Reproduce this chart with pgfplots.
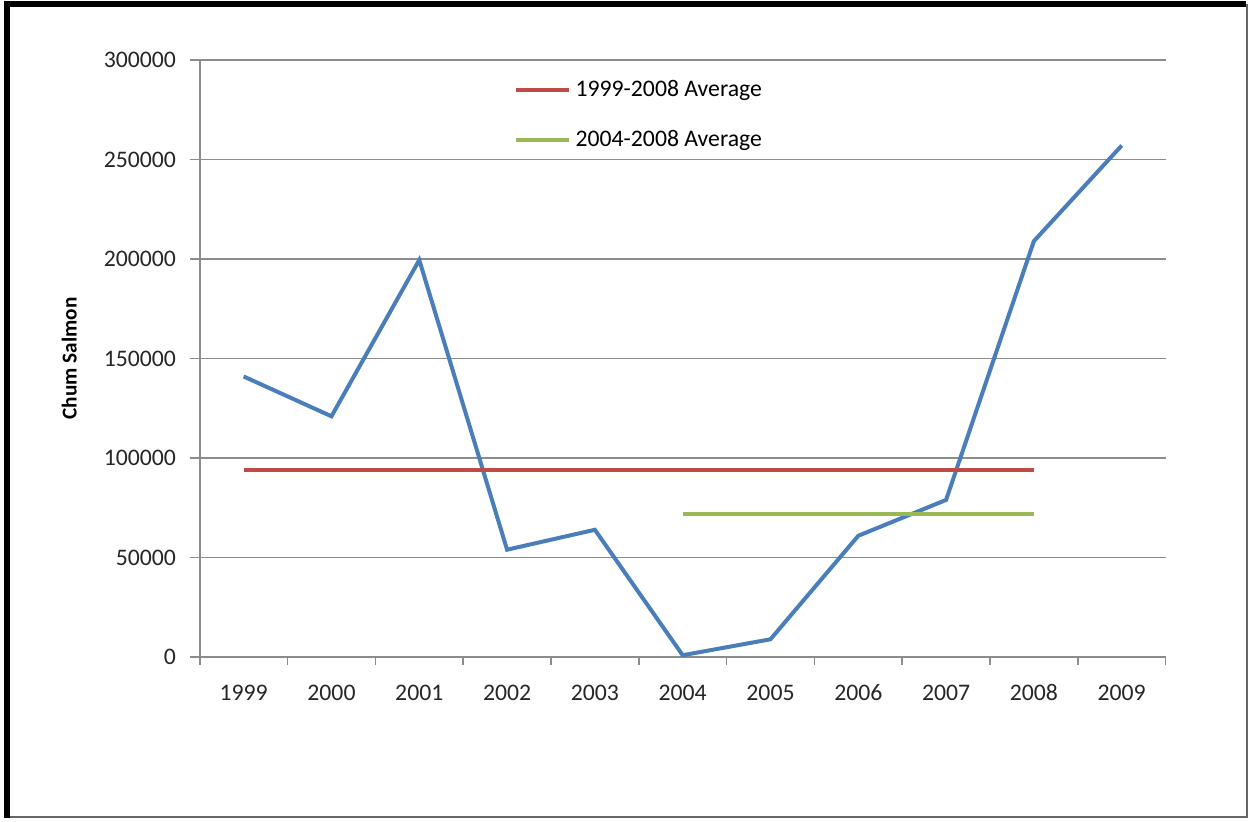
\documentclass[border=0pt]{standalone}
\usepackage{pgfplots}
\pgfplotsset{compat=1.18}
\usepackage{fontspec}
\setmainfont{Carlito}
\setsansfont{Carlito}

\definecolor{xlblue}{HTML}{4A7EBB}
\definecolor{xlred}{HTML}{BE4B48}
\definecolor{xlgreen}{HTML}{98B954}
\definecolor{gridgray}{HTML}{8C8C8C}

\begin{document}
\begin{tikzpicture}
% page frame, 1249 x 819 px at 0.4pt per px
\path (0pt,0pt) rectangle (499.6pt,327.6pt);
\draw[line width=0.8pt,black!60] (2pt,0.4pt) -- (499.2pt,0.4pt) -- (499.2pt,326pt);
\draw[line width=2.4pt,black] (2.8pt,0pt) -- (2.8pt,325.8pt) -- (499pt,325.8pt);
\begin{axis}[
    at={(80pt,64.4pt)}, anchor=south west,
    scale only axis,
    width=386.8pt, height=239.2pt,
    xmin=-0.5, xmax=10.5,
    ymin=0, ymax=300000,
    axis lines*=left,
    axis line style={gridgray, line width=0.6pt},
    xtick={0,...,10},
    xticklabels={1999,2000,2001,2002,2003,2004,2005,2006,2007,2008,2009},
    major x tick style={draw=none},
    minor xtick={-0.5,0.5,...,10.5},
    minor x tick style={gridgray, line width=0.6pt},
    minor tick length=3.2pt,
    ytick={0,50000,...,300000},
    y tick style={gridgray, line width=0.6pt},
    major tick length=4pt,
    tick align=outside,
    ymajorgrids=true,
    grid style={gridgray, line width=0.6pt},
    /pgf/number format/fixed,
    /pgf/number format/set thousands separator={},
    scaled y ticks=false,
    /pgf/number format/assume math mode=true,
    tick label style={font=\fontsize{9.5}{11}\selectfont, text=black!85},
    xticklabel style={yshift=-3pt, text height=7pt, text depth=0pt},
    yticklabel style={xshift=-2pt},
    ylabel={\textbf{Chum Salmon}},
    ylabel style={font=\fontsize{8.5}{10}\selectfont, yshift=4pt},
    legend style={draw=none, fill=none, at={(0.325,0.975)}, anchor=north west,
        font=\fontsize{9.5}{11}\selectfont, row sep=8pt,
        legend cell align=left, inner sep=0pt},
    legend image code/.code={\draw[#1] (0pt,0pt) -- (21pt,0pt);},
]
\addplot[xlblue, line width=1.6pt, forget plot] coordinates {
    (0,141000) (1,121000) (2,199500) (3,54000) (4,64000) (5,1000)
    (6,9000) (7,61000) (8,79000) (9,209000) (10,257000)
};
\addplot[xlred, line width=1.6pt] coordinates {(0,93850) (9,93850)};
\addlegendentry{1999-2008 Average}
\addplot[xlgreen, line width=1.6pt] coordinates {(5,71800) (9,71800)};
\addlegendentry{2004-2008 Average}
\end{axis}
\end{tikzpicture}
\end{document}
